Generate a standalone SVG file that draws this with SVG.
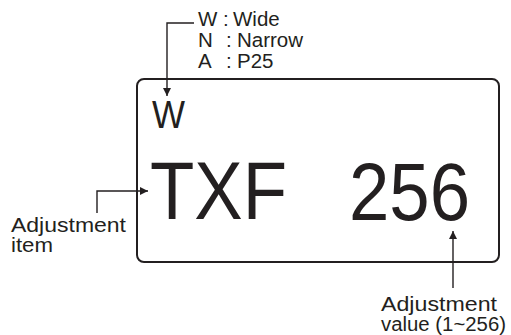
<svg xmlns="http://www.w3.org/2000/svg" width="511" height="335" viewBox="0 0 511 335">
<defs>
<style>
.lbl{font-family:"Liberation Sans",Arial,sans-serif;font-size:20px;fill:#231f20}
.leg{font-family:"Liberation Sans",Arial,sans-serif;font-size:20.5px;fill:#231f20}
.big{font-family:"Liberation Sans",Arial,sans-serif;fill:#231f20}
.ln{fill:none;stroke:#231f20;stroke-width:1.4}
</style>
<marker id="ah" viewBox="0 0 10 10" refX="10" refY="5" markerWidth="9" markerHeight="8" markerUnits="userSpaceOnUse" orient="auto">
<path d="M0,0 L10,5 L0,10 z" fill="#231f20"/>
</marker>
</defs>
<rect x="0" y="0" width="511" height="335" fill="#fff"/>
<g id="display">
<rect x="137" y="79" width="362" height="183" rx="7" fill="none" stroke="#231f20" stroke-width="2"/>
<text class="big" x="152" y="128" font-size="38" textLength="33" lengthAdjust="spacingAndGlyphs">W</text>
<text class="big" x="150" y="219" font-size="82" textLength="137" lengthAdjust="spacingAndGlyphs">TXF</text>
<text class="big" x="349" y="220" font-size="82" textLength="121" lengthAdjust="spacingAndGlyphs">256</text>
</g>
<g id="mode-legend">
<text class="leg" y="26"><tspan x="198">W</tspan><tspan x="223">:</tspan><tspan x="233">Wide</tspan></text>
<text class="leg" y="47"><tspan x="198">N</tspan><tspan x="226">:</tspan><tspan x="237">Narrow</tspan></text>
<text class="leg" y="68"><tspan x="198">A</tspan><tspan x="226">:</tspan><tspan x="237">P25</tspan></text>
</g>
<g id="item-label">
<text class="lbl" x="11" y="232" textLength="115" lengthAdjust="spacingAndGlyphs">Adjustment</text>
<text class="lbl" x="11" y="252" textLength="42" lengthAdjust="spacingAndGlyphs">item</text>
</g>
<g id="value-label">
<text class="lbl" x="381" y="311" textLength="116" lengthAdjust="spacingAndGlyphs">Adjustment</text>
<text class="lbl" x="381" y="331" textLength="125" lengthAdjust="spacingAndGlyphs">value (1~256)</text>
</g>
<g id="connectors">
<path class="ln" d="M194,23 H167 V96" marker-end="url(#ah)"/>
<path class="ln" d="M97,213 V191 H148" marker-end="url(#ah)"/>
<path class="ln" d="M453,288 V231" marker-end="url(#ah)"/>
</g>
</svg>
